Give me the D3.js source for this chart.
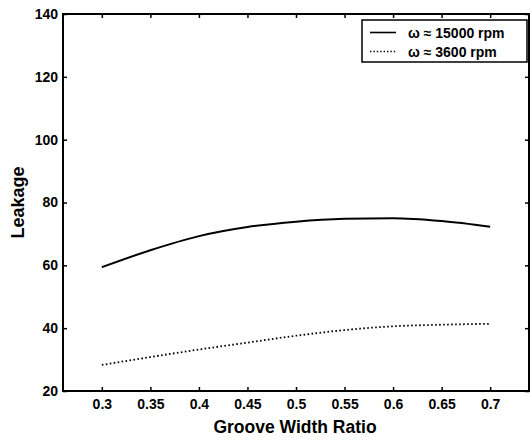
<!DOCTYPE html>
<html>
<head>
<meta charset="utf-8">
<script src="https://cdn.jsdelivr.net/npm/d3@7"></script>
<style>
  body { margin: 0; background: #fff; }
  svg { font-family: "Liberation Sans", Arial, sans-serif; font-weight: bold; }
  .domain { display: none; }
</style>
</head>
<body>
<div id="chart"></div>
<script>
const ratios = [0.3, 0.35, 0.4, 0.45, 0.5, 0.55, 0.6, 0.65, 0.7]
const leak15000 = [59.4, 64.8, 69.3, 72.2, 73.9, 74.8, 75.0, 74.1, 72.3]
const leak3600 = [28.3, 30.8, 33.2, 35.4, 37.6, 39.4, 40.6, 41.1, 41.4]
const xTicks = [0.3, 0.35, 0.4, 0.45, 0.5, 0.55, 0.6, 0.65, 0.7]
const yTicks = [20, 40, 60, 80, 100, 120, 140]
const legendLabels = ['\u03c9 \u2248 15000 rpm', '\u03c9 \u2248 3600 rpm']

const dms = {
    width: 531,
    height: 440,
    margin: { top: 14, right: 2, bottom: 49, left: 63 }
}
dms.contentWidth = dms.width - dms.margin.left - dms.margin.right
dms.contentHeight = dms.height - dms.margin.top - dms.margin.bottom

const svg = d3.select('#chart').append('svg')
    .attr('width', dms.width)
    .attr('height', dms.height)

const content = svg.append('g')
    .attr('transform', `translate(${dms.margin.left},${dms.margin.top})`)

const xScale = d3.scaleLinear()
    .domain([0.26, 0.74])
    .range([0, dms.contentWidth])

const yScale = d3.scaleLinear()
    .domain([20, 140])
    .range([dms.contentHeight, 0])

// inward ticks on all four sides, labels only bottom/left
content.append('g')
    .attr('transform', `translate(0,${dms.contentHeight})`)
    .call(d3.axisBottom(xScale).tickValues(xTicks).tickSize(-4).tickPadding(8)
        .tickFormat(d3.format('')))
content.append('g')
    .call(d3.axisTop(xScale).tickValues(xTicks).tickSize(-4).tickFormat(''))
content.append('g')
    .call(d3.axisLeft(yScale).tickValues(yTicks).tickSize(-4).tickPadding(5))
content.append('g')
    .attr('transform', `translate(${dms.contentWidth},0)`)
    .call(d3.axisRight(yScale).tickValues(yTicks).tickSize(-4).tickFormat(''))

svg.selectAll('.tick line').attr('stroke', '#000').attr('stroke-width', 1.5)
svg.selectAll('.tick text')
    .attr('fill', '#000')
    .style('font-size', '14px')
    .style('font-weight', 'bold')

content.append('rect')
    .attr('width', dms.contentWidth)
    .attr('height', dms.contentHeight)
    .attr('fill', 'none')
    .attr('stroke', '#000')
    .attr('stroke-width', 2)

const lineGen = d3.line()
    .x((d, i) => xScale(ratios[i]))
    .y(d => yScale(d))
    .curve(d3.curveMonotoneX)

content.append('path')
    .attr('d', lineGen(leak15000))
    .attr('fill', 'none')
    .attr('stroke', '#000')
    .attr('stroke-width', 2)

content.append('path')
    .attr('d', lineGen(leak3600))
    .attr('fill', 'none')
    .attr('stroke', '#000')
    .attr('stroke-width', 1.8)
    .attr('stroke-dasharray', '1.6,2.4')

// legend
const legend = svg.append('g')
    .attr('transform', 'translate(362,20)')
legend.append('rect')
    .attr('width', 165)
    .attr('height', 42)
    .attr('fill', '#fff')
    .attr('stroke', '#000')
    .attr('stroke-width', 1.5)

legendLabels.forEach((label, i) => {
    const y = 12.5 + i * 19
    legend.append('line')
        .attr('x1', 8).attr('x2', 34)
        .attr('y1', y).attr('y2', y)
        .attr('stroke', '#000')
        .attr('stroke-width', 1.6)
        .attr('stroke-dasharray', i === 0 ? null : '1.4,2')
    legend.append('text')
        .attr('x', 46)
        .attr('y', y + 5)
        .style('font-size', '14px')
        .text(label)
})

svg.append('text')
    .attr('x', 295)
    .attr('y', 433)
    .attr('text-anchor', 'middle')
    .style('font-size', '17.5px')
    .text('Groove Width Ratio')

svg.append('text')
    .attr('transform', `translate(24,${dms.margin.top + yScale(80)}) rotate(-90)`)
    .attr('text-anchor', 'middle')
    .style('font-size', '18px')
    .text('Leakage')
</script>
</body>
</html>
